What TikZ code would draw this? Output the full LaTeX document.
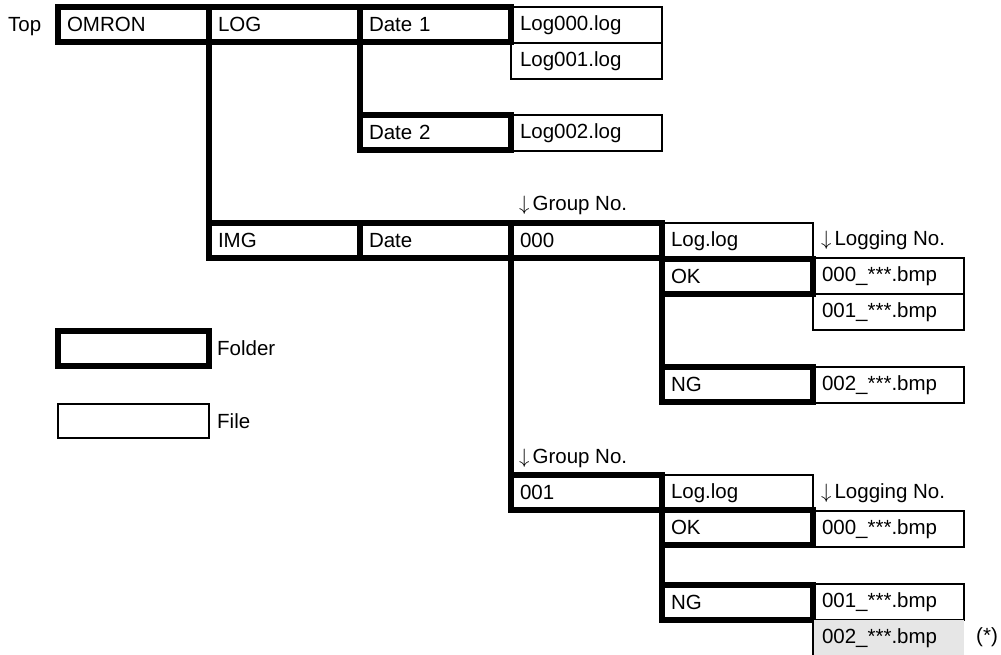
\documentclass[tikz,border=0pt]{standalone}
\usepackage{fontspec}
\setmainfont{Liberation Sans}
\usepackage{tikz}
\usetikzlibrary{positioning}
\definecolor{bmpgray}{RGB}{230,230,230}
\newcommand{\dnarrow}{\kern1pt$\downarrow$\kern3pt}

\begin{document}
\begin{tikzpicture}[x=1pt,y=-1pt,
    box/.style={anchor=north west,outer sep=0pt,inner xsep=9pt,inner ysep=0pt,minimum width=151pt,
      text width=133pt,align=left,font=\fontsize{20.5}{24}\selectfont},
    folder/.style={box,draw,line width=6pt,minimum height=35pt},
    file/.style={box,draw,line width=2pt,minimum height=36pt},
    marked/.style={box,fill=bmpgray,minimum height=36pt},
    lbl/.style={anchor=base west,font=\fontsize{20.5}{24}\selectfont,inner sep=0pt},
    branch/.style={line width=6pt}]
    \useasboundingbox (0,0) rectangle (1001,654);
    % LOG tree
    \node[lbl] (top) at (8,31){Top};
    \node[folder] (omron) at (58,7){OMRON};
    \node[folder] (log) at (209,7){LOG};
    \node[folder] (date1) at (360,7){Date 1};
    \node[file] (log000) at (511,7){Log000.log};
    \node[file] (log001) at (511,43){Log001.log};
    \node[folder] (date2) at (360,115){Date 2};
    \node[file] (log002) at (511,115){Log002.log};
    % IMG tree, group 000
    \node[lbl] (grpA) at (518,210){\dnarrow Group No.};
    \node[folder] (img) at (209,223){IMG};
    \node[folder] (date) at (360,223){Date};
    \node[folder] (grp000) at (511,223){000};
    \node[file] (loglogA) at (662,223){Log.log};
    \node[lbl] (lognoA) at (820,245){\dnarrow Logging No.};
    \node[folder] (okA) at (662,259){OK};
    \node[file] (bmpA0) at (813,258){000\_***.bmp};
    \node[file] (bmpA1) at (813,294){001\_***.bmp};
    \node[folder] (ngA) at (662,367){NG};
    \node[file] (bmpA2) at (813,367){002\_***.bmp};
    % group 001
    \node[lbl] (grpB) at (518,463){\dnarrow Group No.};
    \node[folder] (grp001) at (511,475){001};
    \node[file] (loglogB) at (662,475){Log.log};
    \node[lbl] (lognoB) at (820,498){\dnarrow Logging No.};
    \node[folder] (okB) at (662,510){OK};
    \node[file] (bmpB0) at (813,511){000\_***.bmp};
    \node[folder] (ngB) at (662,585){NG};
    \node[file] (bmpB1) at (813,584){001\_***.bmp};
    \node[marked] (bmpB2) at (813,620){002\_***.bmp};
    \node[lbl] (note) at (976,642){(*)};
    % legend
    \node[folder] (keyfolder) at (58,331){};
    \node[lbl,anchor=west,right=8pt of keyfolder] (keyfoldertxt){Folder};
    \node[file,minimum height=34pt] (keyfile) at (58,404){};
    \node[lbl,anchor=west,right=8pt of keyfile] (keyfiletxt){File};
    % branches
    \draw[branch] (log.south west) -- (img.north west);
    \draw[branch] (date1.south west) -- (date2.north west);
    \draw[branch] (grp000.south west) -- (grp001.north west);
    \draw[branch] (grp000.south east) -- (ngA.north west);
    \draw[branch] (grp001.south east) -- (ngB.north west);
    \draw[line width=2pt] (bmpB2.north west) -- (bmpB2.south west);
\end{tikzpicture}
\end{document}
